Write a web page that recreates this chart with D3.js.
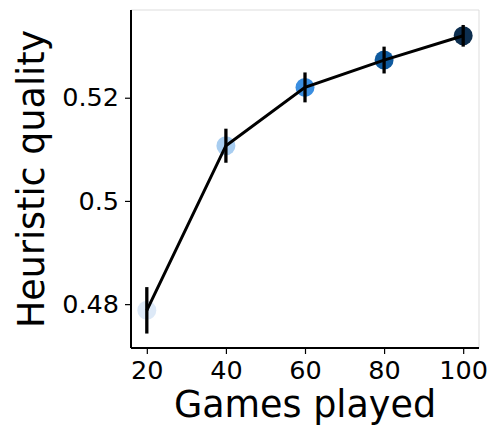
<!DOCTYPE html>
<html lang="en">
<head>
<meta charset="utf-8">
<title>Heuristic quality</title>
<script src="https://d3js.org/d3.v7.min.js"></script>
<style>
  body { margin: 0; background: white; }
  text { font-family: "DejaVu Sans", sans-serif; fill: black; }
</style>
</head>
<body>
<script>
// data
const games = [20, 40, 60, 80, 100]
const quality = [0.4788, 0.5107, 0.5220, 0.5273, 0.5320]
const errs = [0.0045, 0.0033, 0.0029, 0.0026, 0.0021]
const pointColors = ['#dde9f7', '#a8cdf0', '#3a8ee0', '#0f5a9e', '#0d2e4f']
const xTicks = [20, 40, 60, 80, 100]
const yTicks = [0.48, 0.50, 0.52]
const yTickLabels = ['0.48', '0.5', '0.52']

const W = 492, H = 427
const plot = {left: 131, right: 479, top: 10, bottom: 348}

const svg = d3.select('body').append('svg')
    .attr('width', W)
    .attr('height', H)

const x = d3.scaleLinear().domain([16, 104]).range([plot.left, plot.right])
const y = d3.scaleLinear().domain([0.4715, 0.537]).range([plot.bottom, plot.top])

// light top / right frame
svg.append('path')
    .attr('d', `M${plot.left},${plot.top}H${plot.right}V${plot.bottom}`)
    .attr('fill', 'none')
    .attr('stroke', '#dddddd')
    .attr('stroke-width', 1)

// axes
const xAxis = svg.append('g')
    .attr('transform', `translate(0,${plot.bottom})`)
    .call(d3.axisBottom(x).tickValues(xTicks).tickSize(6).tickPadding(7).tickSizeOuter(0))
xAxis.select('.domain').attr('stroke-width', 2).attr('d', `M${plot.left},0H${plot.right}`)
xAxis.selectAll('.tick line').attr('stroke-width', 1.2)
xAxis.selectAll('.tick text').style('font-size', '25.5px')

const yAxis = svg.append('g')
    .attr('transform', `translate(${plot.left},0)`)
    .call(d3.axisLeft(y).tickValues(yTicks).tickFormat((d, i) => yTickLabels[i]).tickSize(6).tickPadding(6).tickSizeOuter(0))
yAxis.select('.domain').attr('stroke-width', 2).attr('d', `M0,${plot.top}V${plot.bottom}`)
yAxis.selectAll('.tick line').attr('stroke-width', 1.2)
yAxis.selectAll('.tick text').style('font-size', '25.5px')

// axis titles
svg.append('text')
    .attr('x', (plot.left + plot.right) / 2)
    .attr('y', 417)
    .attr('text-anchor', 'middle')
    .style('font-size', '36.5px')
    .text('Games played')

svg.append('text')
    .attr('transform', `translate(44,${(plot.top + plot.bottom) / 2}) rotate(-90)`)
    .attr('text-anchor', 'middle')
    .style('font-size', '36.5px')
    .text('Heuristic quality')

const pts = games.map((g, i) => ({g: g, q: quality[i], e: errs[i], c: pointColors[i]}))

// colored markers
svg.selectAll('.dot')
    .data(pts)
    .enter().append('circle')
    .attr('class', 'dot')
    .attr('cx', d => x(d.g))
    .attr('cy', d => y(d.q))
    .attr('r', 9.5)
    .attr('fill', d => d.c)

// line
const line = d3.line().x(d => x(d.g)).y(d => y(d.q))
svg.append('path')
    .datum(pts)
    .attr('d', line)
    .attr('fill', 'none')
    .attr('stroke', 'black')
    .attr('stroke-width', 3)

// error bars
svg.selectAll('.err')
    .data(pts)
    .enter().append('line')
    .attr('class', 'err')
    .attr('x1', d => x(d.g))
    .attr('x2', d => x(d.g))
    .attr('y1', d => y(d.q - d.e))
    .attr('y2', d => y(d.q + d.e))
    .attr('stroke', 'black')
    .attr('stroke-width', 3.3)
</script>
</body>
</html>
